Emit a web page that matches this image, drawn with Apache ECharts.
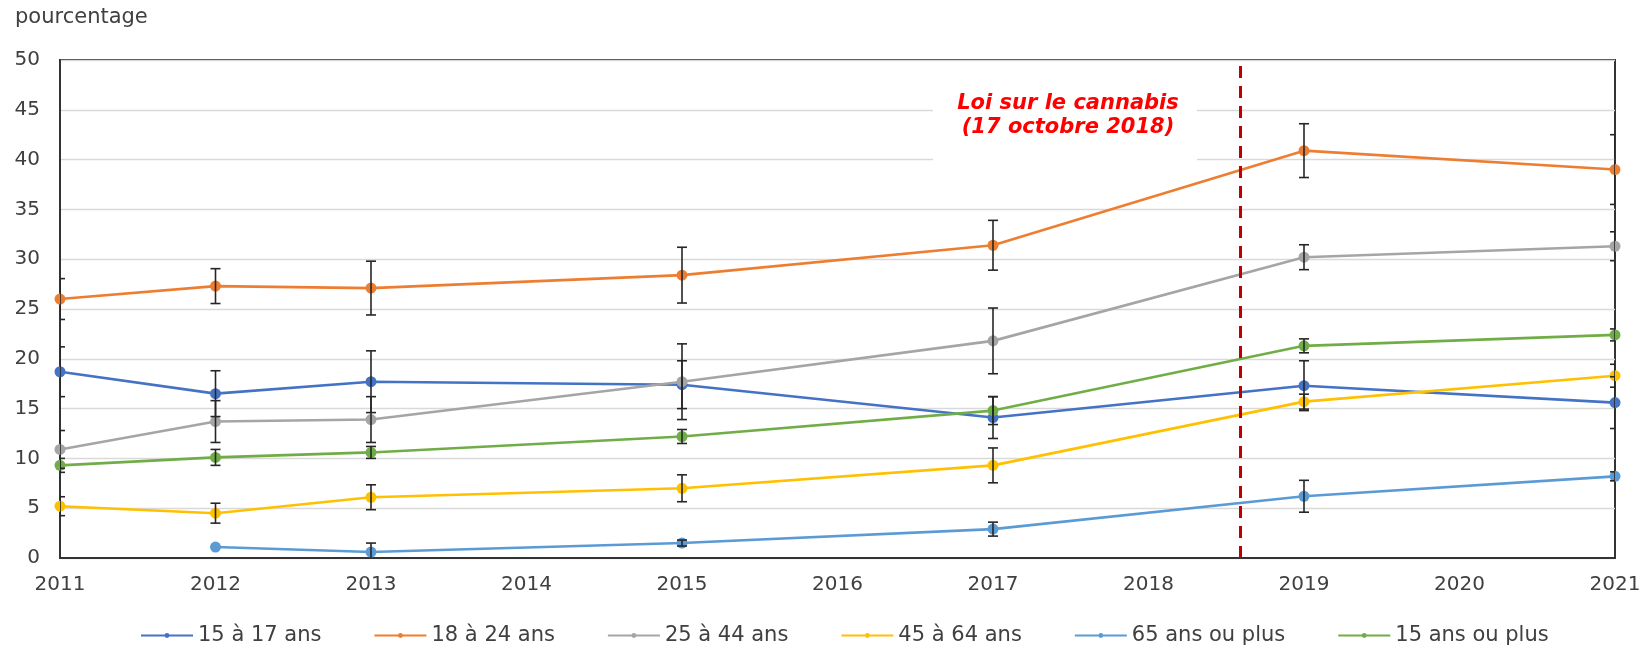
<!DOCTYPE html>
<html>
<head>
<meta charset="utf-8">
<script src="https://cdn.jsdelivr.net/npm/echarts@6/dist/echarts.min.js"></script>
<style>
  html, body { margin: 0; padding: 0; background: #fff; }
  #chart { width: 1645px; height: 645px; }
</style>
</head>
<body>
<div id="chart"></div>
<script>
// années d'enquête
const years = [2011, 2012, 2013, 2015, 2017, 2019, 2021]
const seriesNames = ['15 à 17 ans', '18 à 24 ans', '25 à 44 ans', '45 à 64 ans', '65 ans ou plus', '15 ans ou plus']
const seriesColors = ['#4472C4', '#ED7D31', '#A5A5A5', '#FFC000', '#5B9BD5', '#70AD47']

// pourcentages
const v15to17 = [18.7, 16.5, 17.7, 17.4, 14.1, 17.3, 15.6]
const v18to24 = [26.0, 27.3, 27.1, 28.4, 31.4, 40.9, 39.0]
const v25to44 = [10.9, 13.7, 13.9, 17.7, 21.8, 30.2, 31.3]
const v45to64 = [5.2, 4.5, 6.1, 7.0, 9.3, 15.7, 18.3]
const v65plus = [null, 1.1, 0.6, 1.5, 2.9, 6.2, 8.2]
const v15plus = [9.3, 10.1, 10.6, 12.2, 14.8, 21.3, 22.4]

// marges d'erreur (+/-)
const e15to17 = [2.5, 2.3, 3.1, 2.4, 2.1, 2.5, 2.6]
const e18to24 = [2.05, 1.75, 2.7, 2.8, 2.5, 2.7, 3.5]
const e25to44 = [1.9, 2.1, 2.3, 3.8, 3.3, 1.25, 1.45]
const e45to64 = [0.95, 1.0, 1.25, 1.35, 1.75, 0.75, 1.15]
const e65plus = [null, null, 0.9, 0.3, 0.7, 1.6, 0.45]
const e15plus = [0.7, 0.8, 0.6, 0.7, 1.4, 0.7, 0.6]

// Loi sur le cannabis, position de la ligne verticale
const lawX = 2018.59

const values = [v15to17, v18to24, v25to44, v45to64, v65plus, v15plus]
const errors = [e15to17, e18to24, e25to44, e45to64, e65plus, e15plus]

const chart = echarts.init(document.getElementById('chart'))
const font = 'DejaVu Sans, Verdana, sans-serif'

function errorBar (params, api) {
  const x = api.value(0)
  const top = api.coord([x, api.value(2)])
  const bottom = api.coord([x, api.value(1)])
  const half = 5
  const style = { stroke: '#262626', lineWidth: 1.6 }
  return {
    type: 'group',
    children: [
      { type: 'line', shape: { x1: top[0], y1: top[1], x2: bottom[0], y2: bottom[1] }, style },
      { type: 'line', shape: { x1: top[0] - half, y1: top[1], x2: top[0] + half, y2: top[1] }, style },
      { type: 'line', shape: { x1: bottom[0] - half, y1: bottom[1], x2: bottom[0] + half, y2: bottom[1] }, style }
    ]
  }
}

const series = []
values.forEach((vals, i) => {
  const errData = []
  vals.forEach((v, k) => {
    const e = errors[i][k]
    if (v !== null && e !== null) errData.push([years[k], v - e, v + e])
  })
  series.push({
    type: 'custom',
    name: seriesNames[i] + ' err',
    renderItem: errorBar,
    data: errData,
    clip: true,
    z: 3,
    silent: true
  })
})
values.forEach((vals, i) => {
  const s = {
    type: 'line',
    name: seriesNames[i],
    data: years.map((y, k) => [y, vals[k]]).filter(d => d[1] !== null),
    symbol: 'circle',
    symbolSize: 11,
    color: seriesColors[i],
    lineStyle: { width: 2.6, color: seriesColors[i] },
    itemStyle: { color: seriesColors[i] },
    z: 2 + i * 0.01,
    clip: false
  }
  if (i === 0) {
    s.markLine = {
      silent: true,
      symbol: 'none',
      label: { show: false },
      lineStyle: { color: '#C00000', width: 3, type: [12, 8] },
      data: [{ xAxis: lawX }]
    }
  }
  series.push(s)
})

chart.setOption({
  animation: false,
  textStyle: { fontFamily: font },
  grid: {
    left: 60,
    right: 30,
    top: 60,
    bottom: 87,
    show: true,
    borderColor: '#333333',
    borderWidth: 2,
    backgroundColor: 'transparent'
  },
  title: {
    text: 'pourcentage',
    left: 10,
    top: 2,
    textStyle: { fontFamily: font, fontSize: 21, fontWeight: 'normal', color: '#404040' }
  },
  legend: {
    data: seriesNames,
    left: 135,
    top: 620,
    itemWidth: 52,
    itemHeight: 6,
    itemGap: 52,
    textStyle: { fontFamily: font, fontSize: 21, color: '#404040' }
  },
  xAxis: {
    type: 'value',
    min: 2011,
    max: 2021,
    interval: 1,
    splitLine: { show: false },
    axisLine: { show: true, lineStyle: { color: '#333333', width: 2 } },
    axisTick: { show: false },
    axisLabel: { color: '#404040', fontSize: 20, margin: 17, formatter: v => String(v) }
  },
  yAxis: {
    type: 'value',
    min: 0,
    max: 50,
    interval: 5,
    splitLine: { lineStyle: { color: '#D9D9D9', width: 1.3 } },
    axisLine: { show: true, lineStyle: { color: '#333333', width: 2 } },
    axisTick: { show: false },
    axisLabel: { color: '#404040', fontSize: 20, margin: 20 }
  },
  graphic: [
    {
      type: 'rect',
      shape: { x: 933, y: 84, width: 264, height: 86 },
      style: { fill: '#ffffff' },
      z: 1
    },
    {
      type: 'text',
      x: 1068,
      y: 116,
      style: {
        text: 'Loi sur le cannabis\n(17 octobre 2018)',
        fill: '#FF0000',
        font: 'italic bold 21px DejaVu Sans',
        align: 'center',
        verticalAlign: 'middle',
        lineHeight: 24
      },
      z: 10
    }
  ],
  series
})
</script>
</body>
</html>
